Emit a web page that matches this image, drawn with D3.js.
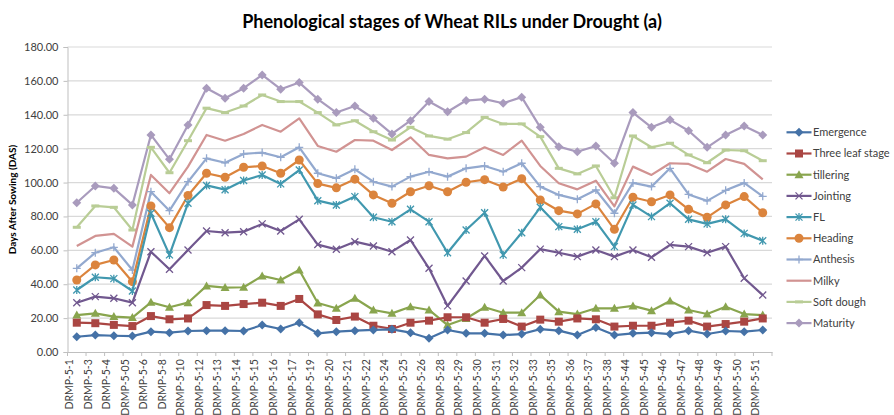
<!DOCTYPE html>
<html><head><meta charset="utf-8">
<script src="https://cdn.jsdelivr.net/npm/d3@7"></script>
<style>body{margin:0;background:#fff;font-family:Lato,"Open Sans",sans-serif;}</style>
</head><body><svg id="c" width="894" height="415"></svg>
<script>
const categories = ["DRMP-5-1","DRMP-5-3","DRMP-5-4","DRMP-5-05","DRMP-5-6","DRMP-5-8","DRMP-5-10","DRMP-5-12","DRMP-5-13","DRMP-5-14","DRMP-5-15","DRMP-5-16","DRMP-5-17","DRMP-5-19","DRMP-5-20","DRMP-5-21","DRMP-5-22","DRMP-5-24","DRMP-5-25","DRMP-5-26","DRMP-5-28","DRMP-5-29","DRMP-5-30","DRMP-5-31","DRMP-5-32","DRMP-5-33","DRMP-5-35","DRMP-5-36","DRMP-5-37","DRMP-5-38","DRMP-5-44","DRMP-5-45","DRMP-5-46","DRMP-5-47","DRMP-5-48","DRMP-5-49","DRMP-5-50","DRMP-5-51"];
const emergence = [9,10,9.6,9.4,12,11.4,12.4,12.6,12.6,12.4,15.9,13.6,17.3,11,12,12.6,13,13.4,11.4,8.1,13,11,11,10,10.6,13.5,12.6,10,14.4,10,11,11.4,10.6,12.6,10.6,12.4,12,13];
const threeLeaf = [17.3,17,16,15.3,21.2,19.3,19.8,27.7,27.2,28.3,29.1,27.2,31.3,22.2,18.9,20.9,15.5,13.6,17.3,18.5,20.5,20.5,17.3,19.5,15,19.1,17.9,19.8,19.3,15,15.5,15.5,17.3,18.5,15,16.5,17.9,19.8];
const tillering = [21.8,22.8,20.9,20.3,29.3,26.4,29.1,39,38,38.2,44.9,42.5,48.4,28.9,25.8,31.7,24.8,22.8,26.7,24.8,15.9,19.8,26.4,23.2,23.2,33.6,23.8,22.4,25.8,25.8,27.2,24.4,30.1,24.8,22.4,26.7,22.4,21.8];
const jointing = [29.1,32.7,31.7,29.1,59.2,48.8,60.2,71.4,70.4,71,75.6,71.4,78.3,63.4,60.6,65.1,62.6,59.2,66.1,49.4,27.2,41.9,56.7,41.9,49.8,60.7,58.6,56.3,60.2,56.3,60.2,55.9,63.2,62.2,58.6,62.2,43.5,33.6];
const fl = [36.6,44.1,43.3,36,81.9,57.3,87.8,98.3,95.8,101.2,104.5,99.2,107.4,89.3,86.8,91.7,79.5,76.9,84.2,76.9,58.6,72,82.2,57.3,70.4,85.4,74,72.4,76.9,62.2,86.8,79.9,87.8,78.3,75.6,78.3,70,65.7];
const heading = [42.5,51.4,54.3,41.5,86.2,73.4,92.4,105.5,103.1,109,109.8,105.5,113.3,99.4,96.9,102,92.7,87.8,94.6,98.1,94.6,100.2,101.7,97.4,102.3,89.7,83.4,81.5,87.4,72.4,91.3,88.7,92.7,84.2,79.5,86.8,91.7,82.2];
const anthesis = [49.4,58.6,61.8,48.4,94.6,83.4,100.5,114.3,111.7,116.9,117.7,114.9,120.8,105.5,102.5,107.8,100.5,97.6,103.5,106.4,103.5,108.4,109.8,106.4,111.4,97.6,92.7,90.1,95.6,81.9,99.8,97.6,108.4,93,89.2,95.4,99.8,91.9];
const milky = [62.6,68.5,69.7,62.2,104.5,93.7,109.4,128.1,124.7,128.7,134,130,137.9,121.6,118.2,125.1,124.7,119.2,126.7,116.3,114.3,115.3,120.8,116.3,124.7,109.8,99.6,96,101.1,86,109.4,104.5,111.4,111,106.4,113.9,111,101.9];
const softDough = [73.6,86.2,85.4,72,120.8,105.8,124.7,143.9,141.3,145.2,151.7,147.8,147.8,141.3,134,136.5,130,125.1,132.6,127.5,125.6,129.5,138.5,134.6,134.6,127.1,108.4,105.1,109.8,91,127.5,120.8,123.2,116.3,111.7,119.2,118.8,112.9];
const maturity = [88.1,98,96.6,86.8,128.1,113.7,134,155.7,149.8,155.7,163.5,155.1,159,149.2,141.3,145.2,137.9,128.7,136.5,147.8,141.8,148.4,149.2,146.8,150.4,132.6,121.2,118.2,121.6,111.4,141.3,132.6,137,130.6,120.8,128.1,133.4,128.1];
const seriesNames = ["Emergence","Three leaf stage","tillering","Jointing","FL","Heading","Anthesis","Milky","Soft dough","Maturity"];
const yTicks = [0,20,40,60,80,100,120,140,160,180];

const seriesData = [emergence,threeLeaf,tillering,jointing,fl,heading,anthesis,milky,softDough,maturity];
const colors = ["#4572A7","#AA4643","#89A54E","#71588F","#4198AF","#DB843D","#93A9CF","#D19392","#B9CD96","#A99BBD"];
const markers = ["diamond","square","triangle","x","star","circle","plus","none","dash","diamond"];

const svg = d3.select("#c");
const L = 67.5, R = 772, T = 47, B = 352;
const x = d3.scaleBand().domain(categories).range([L, R]).padding(0);
const cx = d => x(d) + x.bandwidth()/2;
const y = d3.scaleLinear().domain([0,180]).range([B, T]);

// gridlines
svg.append("g").selectAll("line").data(yTicks.filter(t=>t>0)).join("line")
  .attr("x1", L).attr("x2", R).attr("y1", d=>y(d)).attr("y2", d=>y(d))
  .attr("stroke", "#d9d9d9").attr("stroke-width", 1.2);

// y axis
const yAxis = d3.axisLeft(y).tickValues(yTicks).tickFormat(d3.format(".2f")).tickSize(4).tickPadding(5);
const gy = svg.append("g").attr("transform", `translate(${L},0)`).call(yAxis);
gy.select(".domain").attr("stroke", "#bfbfbf");
gy.selectAll(".tick line").attr("stroke", "#bfbfbf");
gy.selectAll("text").attr("font-family","Lato, 'Open Sans', sans-serif").attr("font-size", 11).attr("fill", "#404040");

// x axis
const xAxis = d3.axisBottom(x).tickSize(0).tickPadding(6);
const gx = svg.append("g").attr("transform", `translate(0,${B})`).call(xAxis);
gx.select(".domain").attr("stroke", "#bfbfbf");
gx.selectAll("text").attr("font-family","Lato, 'Open Sans', sans-serif").attr("font-size", 10.5).attr("fill", "#404040")
  .attr("transform", "rotate(-90)").attr("text-anchor", "end").attr("dx", "-0.5em").attr("dy", "-0.35em").attr("y", 0).attr("x", -2);
// category tick marks between bands
svg.append("g").selectAll("line").data(categories.concat(["_end"])).join("line")
  .attr("x1", (d,i)=>L + i*x.bandwidth()).attr("x2", (d,i)=>L + i*x.bandwidth())
  .attr("y1", B).attr("y2", B+4).attr("stroke", "#bfbfbf");

// title
svg.append("text").attr("x", 452).attr("y", 28).attr("text-anchor", "middle")
  .attr("font-family","Lato, 'Open Sans', sans-serif").attr("font-weight", "bold").attr("font-size", 18).attr("fill", "#000")
  .text("Phenological stages of Wheat RILs under Drought (a)");
// y title
svg.append("text").attr("transform", `translate(16,${(T+B)/2}) rotate(-90)`).attr("text-anchor", "middle")
  .attr("font-family","Lato, 'Open Sans', sans-serif").attr("font-weight", "bold").attr("font-size", 10).attr("fill", "#000")
  .text("Days After Sowing (DAS)");

function drawMarker(g, type, color, px, py) {
  if (type === "diamond") g.append("path").attr("d", `M${px},${py-4.5}L${px+4.5},${py}L${px},${py+4.5}L${px-4.5},${py}Z`).attr("fill", color);
  else if (type === "square") g.append("rect").attr("x", px-4).attr("y", py-4).attr("width", 8).attr("height", 8).attr("fill", color);
  else if (type === "triangle") g.append("path").attr("d", `M${px},${py-4.5}L${px+4.5},${py+3.5}L${px-4.5},${py+3.5}Z`).attr("fill", color);
  else if (type === "circle") g.append("circle").attr("cx", px).attr("cy", py).attr("r", 4.5).attr("fill", color);
  else if (type === "x") g.append("path").attr("d", `M${px-3.5},${py-3.5}L${px+3.5},${py+3.5}M${px-3.5},${py+3.5}L${px+3.5},${py-3.5}`).attr("stroke", color).attr("stroke-width", 1.3);
  else if (type === "star") g.append("path").attr("d", `M${px-3.5},${py-3.5}L${px+3.5},${py+3.5}M${px-3.5},${py+3.5}L${px+3.5},${py-3.5}M${px},${py-4}L${px},${py+4}`).attr("stroke", color).attr("stroke-width", 1.3);
  else if (type === "plus") g.append("path").attr("d", `M${px-4},${py}L${px+4},${py}M${px},${py-4}L${px},${py+4}`).attr("stroke", color).attr("stroke-width", 1.3);
  else if (type === "dash") g.append("path").attr("d", `M${px-4},${py}L${px+4},${py}`).attr("stroke", color).attr("stroke-width", 3);
}

const line = d3.line().x((d,i)=>cx(categories[i])).y(d=>y(d));
// draw in reverse so Emergence on top
for (let s = seriesData.length-1; s >= 0; s--) {
  const g = svg.append("g");
  g.append("path").datum(seriesData[s]).attr("d", line).attr("fill", "none").attr("stroke", colors[s]).attr("stroke-width", 2.2).attr("stroke-linejoin", "round");
  seriesData[s].forEach((v,i)=>drawMarker(g, markers[s], colors[s], cx(categories[i]), y(v)));
}

// legend
const lg = svg.append("g");
seriesNames.forEach((n,i)=>{
  const yy = 132.3 + i*21.2;
  const g = lg.append("g");
  g.append("line").attr("x1", 786.5).attr("x2", 811.5).attr("y1", yy).attr("y2", yy).attr("stroke", colors[i]).attr("stroke-width", 2.2);
  drawMarker(g, markers[i], colors[i], 799, yy);
  g.append("text").attr("x", 813).attr("y", yy).attr("dy", "0.35em").attr("font-family","Lato, 'Open Sans', sans-serif").attr("font-size", 11).attr("fill", "#404040").text(n);
});
</script></body></html>
